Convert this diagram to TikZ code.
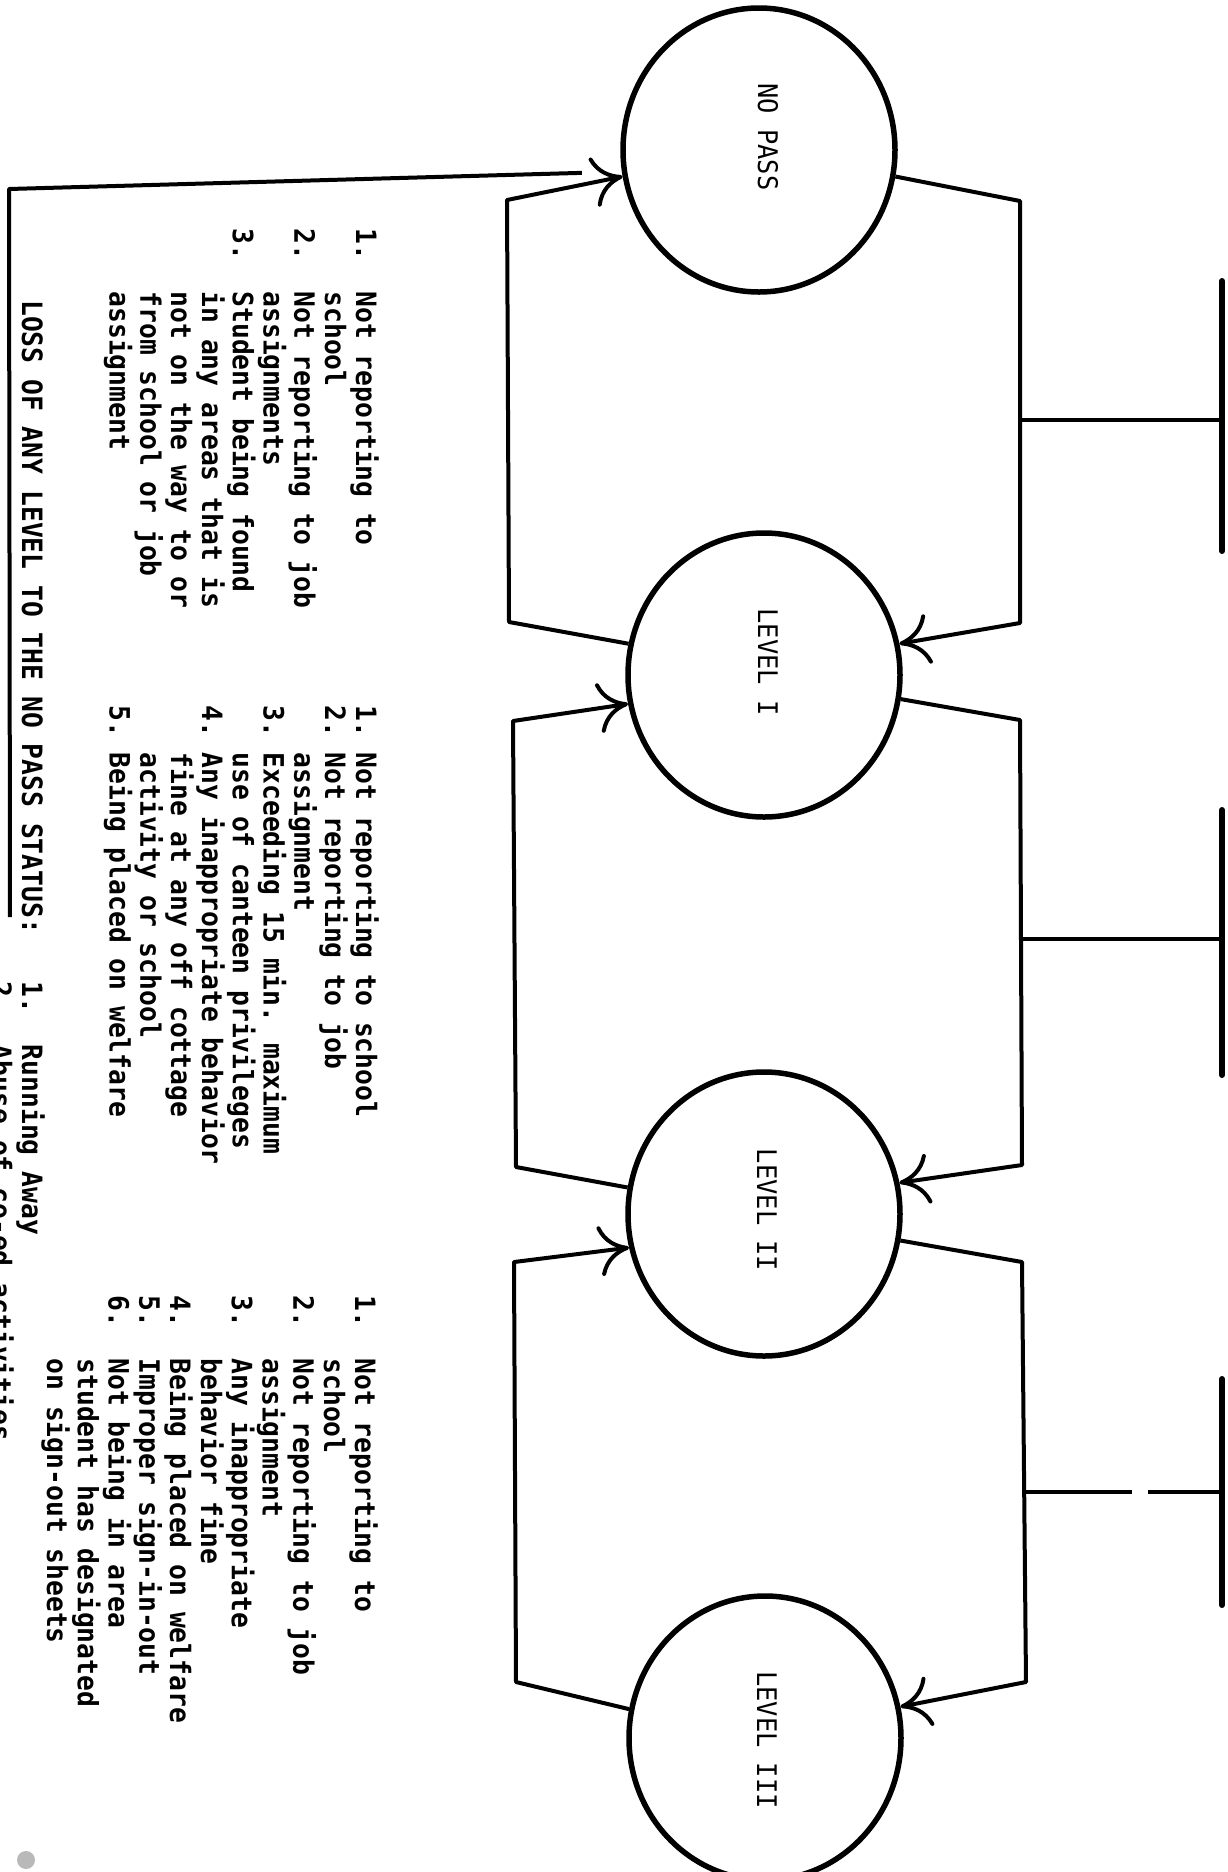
\documentclass[tikz,border=0pt]{standalone}
\usepackage{fontspec}
\newfontfamily\lgfont[FakeStretch=0.94]{DejaVu Sans Mono}
\usetikzlibrary{shapes.geometric,arrows.meta}
\newcommand\numf[1]{\makebox[0pt][l]{#1}\hphantom{0000}}
\newcommand\indf{\hphantom{0000}}
\newcommand\numt[1]{\makebox[0pt][l]{#1}\hphantom{000}}
\newcommand\indt{\hphantom{000}}
\begin{document}
\begin{tikzpicture}[x=1pt,y=-1pt,
  lev/.style={draw, ellipse, line width=5.5pt, minimum width=272pt, minimum height=284pt, inner sep=0pt},
  lvltxt/.style={rotate=-90, font=\lgfont\fontsize{27}{30}\selectfont, inner sep=0pt},
  lst/.style={rotate=-90, anchor=north west, align=left, inner sep=0pt, font=\lgfont\bfseries\fontsize{28}{30.8}\selectfont},
  conn/.style={line width=4pt, line join=round},
  arr/.style={conn, -{Computer Modern Rightarrow[length=30pt,width=50pt,line width=4pt]}},
  tbar/.style={line width=6pt, line cap=round}
]
\useasboundingbox (0,0) rectangle (1227,1872);
% level circles
\node[lev] (np) at (759,150) {};
\node[lev] (l1) at (764,675) {};
\node[lev] (l2) at (764,1214) {};
\node[lev] (l3) at (765,1738) {};
\node[lvltxt] (nptxt) at (768,137) {NO PASS};
\node[lvltxt] (l1txt) at (768,662) {LEVEL I};
\node[lvltxt] (l2txt) at (767,1210) {LEVEL II};
\node[lvltxt] (l3txt) at (767,1740) {LEVEL III};
% right (promotion) connectors
\coordinate (r1a) at (1020,201); \coordinate (r1b) at (1020,623);
\coordinate (r2a) at (1020,720); \coordinate (r2b) at (1022,1165);
\coordinate (r3a) at (1022,1262); \coordinate (r3b) at (1026,1682);
\draw[arr] (np.-11) -- (r1a) -- (r1b) -- (l1.13);
\draw[arr] (l1.-10) -- (r2a) -- (r2b) -- (l2.13);
\draw[arr] (l2.-11) -- (r3a) -- (r3b) -- (l3.13);
% T branches
\coordinate (t1) at (1020,420); \coordinate (b1) at (1222,420);
\coordinate (b1u) at (1222,281); \coordinate (b1d) at (1222,551);
\coordinate (t2) at (1021,939); \coordinate (b2) at (1222,939);
\coordinate (b2u) at (1222,810); \coordinate (b2d) at (1222,1075);
\coordinate (t3) at (1024,1492); \coordinate (g3a) at (1132,1492);
\coordinate (g3b) at (1148,1492); \coordinate (b3) at (1222,1492);
\coordinate (b3u) at (1222,1379); \coordinate (b3d) at (1222,1605);
\draw[conn] (t1) -- (b1);
\draw[conn] (t2) -- (b2);
\draw[conn] (t3) -- (g3a);
\draw[conn] (g3b) -- (b3);
\draw[tbar] (b1u) -- (b1d);
\draw[tbar] (b2u) -- (b2d);
\draw[tbar] (b3u) -- (b3d);
% left (demotion) connectors
\coordinate (q1a) at (509,622); \coordinate (q1b) at (507,200);
\coordinate (q2a) at (516,1167); \coordinate (q2b) at (513,721);
\coordinate (q3a) at (516,1682); \coordinate (q3b) at (514,1262);
\draw[arr] (l1.167) -- (q1a) -- (q1b) -- (np.191);
\draw[arr] (l2.169) -- (q2a) -- (q2b) -- (l1.192);
\draw[arr] (l3.168) -- (q3a) -- (q3b) -- (l2.194);
% loss line
\coordinate (lossend) at (10,917); \coordinate (losscorner) at (9,189);
\draw[conn, shorten >=40pt] (lossend) -- (losscorner) -- (np.189);
% lists
\node[lst] (nplist) at (379,228) {\numf{1.}Not reporting to\\ \indf school\\ \numf{2.}Not reporting to job\\ \indf assignments\\ \numf{3.}Student being found\\ \indf in any areas that is\\ \indf not on the way to or\\ \indf from school or job\\ \indf assignment};
\node[lst] (l1list) at (379,705) {\numt{1.}Not reporting to school\\ \numt{2.}Not reporting to job\\ \indt assignment\\ \numt{3.}Exceeding 15 min. maximum\\ \indt use of canteen privileges\\ \numt{4.}Any inappropriate behavior\\ \indt fine at any off cottage\\ \indt activity or school\\ \numt{5.}Being placed on welfare};
\node[lst] (l2list) at (378,1295) {\numf{1.}Not reporting to\\ \indf school\\ \numf{2.}Not reporting to job\\ \indf assignment\\ \numf{3.}Any inappropriate\\ \indf behavior fine\\ \numf{4.}Being placed on welfare\\ \numf{5.}Improper sign-in-out\\ \numf{6.}Not being in area\\ \indf student has designated\\ \indf on sign-out sheets};
\node[lst] (loss) at (45,300) {LOSS OF ANY LEVEL TO THE NO PASS STATUS:\hphantom{000}1.\hphantom{00}Running Away\\ \hphantom{LOSS OF ANY LEVEL TO THE NO PASS STATUS:000}2.\hphantom{00}Abuse of co-ed activities};
\node[circle, fill=gray!55, minimum size=18pt, inner sep=0pt] (mark) at (26,1860) {};
\end{tikzpicture}
\end{document}
